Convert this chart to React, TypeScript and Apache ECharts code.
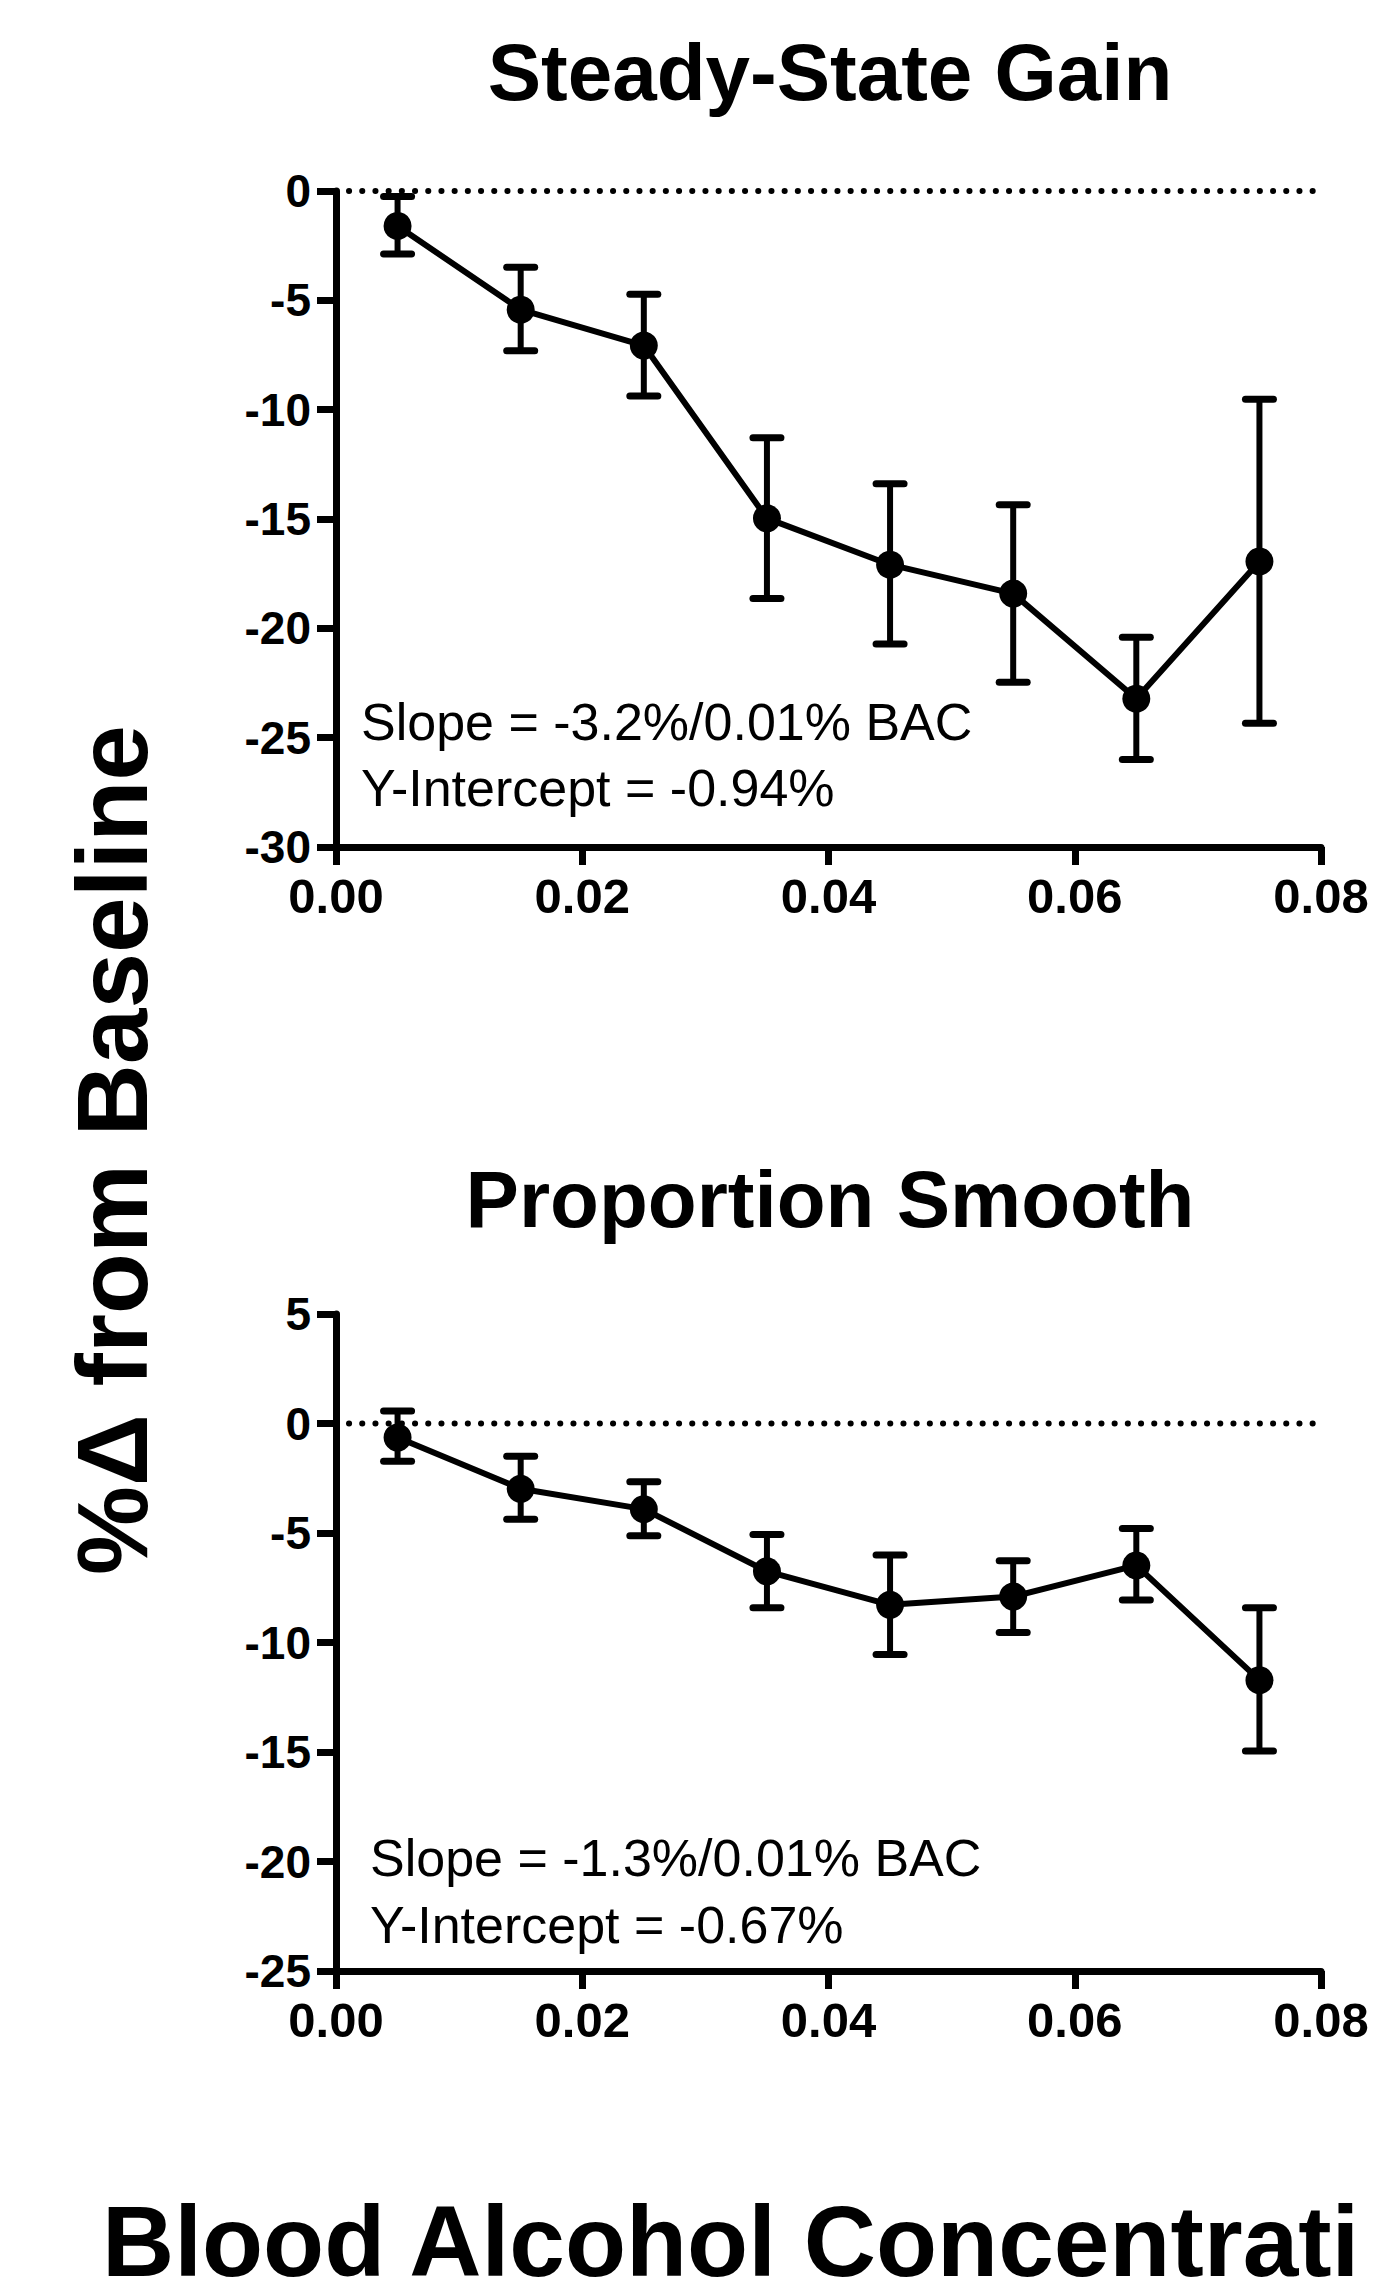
import React, { useEffect, useRef } from "react";
import * as echarts from "echarts";

// BAC bins (x positions)
const bac = [0.005, 0.015, 0.025, 0.035, 0.045, 0.055, 0.065, 0.075];

// Steady-State Gain (% change from baseline)
const ssgMean = [-1.6, -5.43, -7.07, -14.97, -17.09, -18.41, -23.22, -16.94];
const ssgUpper = [-0.25, -3.49, -4.72, -11.28, -13.39, -14.35, -20.41, -9.52];
const ssgLower = [-2.88, -7.3, -9.37, -18.63, -20.72, -22.47, -26.0, -24.34];

// Proportion Smooth (% change from baseline)
const psMean = [-0.64, -2.98, -3.91, -6.75, -8.28, -7.9, -6.48, -11.72];
const psUpper = [0.57, -1.5, -2.66, -5.07, -6.0, -6.27, -4.8, -8.41];
const psLower = [-1.72, -4.37, -5.13, -8.41, -10.55, -9.54, -8.06, -14.96];

const xTicks = [0, 0.02, 0.04, 0.06, 0.08];
const topYRange = [-30, 0];
const botYRange = [-25, 5];

const titles = ["Steady-State Gain", "Proportion Smooth"];
const yTitle = "%Δ from Baseline";
const xTitle = "Blood Alcohol Concentrati";
const topNotes = ["Slope = -3.2%/0.01% BAC", "Y-Intercept = -0.94%"];
const botNotes = ["Slope = -1.3%/0.01% BAC", "Y-Intercept = -0.67%"];

const FONT = "'Liberation Sans', Arial, Helvetica, sans-serif";

function errRender(params: any, api: any) {
  const x = api.value(0);
  const lo = api.value(1);
  const hi = api.value(2);
  const pLo = api.coord([x, lo]);
  const pHi = api.coord([x, hi]);
  const hw = 14;
  const st = { stroke: "#000", lineWidth: 7, lineCap: "round" };
  return {
    type: "group",
    children: [
      { type: "line", shape: { x1: pHi[0], y1: pHi[1], x2: pLo[0], y2: pLo[1] }, style: { stroke: "#000", lineWidth: 6 } },
      { type: "line", shape: { x1: pHi[0] - hw, y1: pHi[1], x2: pHi[0] + hw, y2: pHi[1] }, style: st },
      { type: "line", shape: { x1: pLo[0] - hw, y1: pLo[1], x2: pLo[0] + hw, y2: pLo[1] }, style: st },
    ],
  };
}

export default function App() {
  const ref = useRef<HTMLDivElement>(null);
  useEffect(() => {
    if (!ref.current) return;
    const chart = echarts.init(ref.current, undefined, { renderer: "svg" });

    const xAxisBase = (gridIndex: number) => ({
      type: "value",
      gridIndex,
      min: xTicks[0],
      max: xTicks[xTicks.length - 1],
      interval: 0.02,
      axisLine: { show: true, onZero: false, lineStyle: { color: "#000", width: 7 } },
      axisTick: { show: true, length: 18, lineStyle: { color: "#000", width: 7 } },
      splitLine: { show: false },
      axisLabel: {
        margin: 24,
        color: "#000",
        fontFamily: FONT,
        fontWeight: "bold",
        fontSize: 49,
        formatter: (v: number) => v.toFixed(2),
      },
    });
    const yAxisBase = (gridIndex: number, range: number[]) => ({
      type: "value",
      gridIndex,
      min: range[0],
      max: range[1],
      interval: 5,
      axisLine: { show: true, onZero: false, lineStyle: { color: "#000", width: 7 } },
      axisTick: { show: true, length: 19, lineStyle: { color: "#000", width: 7 } },
      splitLine: { show: false },
      axisLabel: {
        margin: 25,
        color: "#000",
        fontFamily: FONT,
        fontWeight: "bold",
        fontSize: 46,
      },
    });

    const makeSeries = (idx: number, mean: number[], up: number[], lo: number[]) => [
      {
        type: "line",
        xAxisIndex: idx,
        yAxisIndex: idx,
        data: [
          [xTicks[0], 0],
          [xTicks[xTicks.length - 1], 0],
        ],
        symbol: "none",
        silent: true,
        lineStyle: { color: "#000", width: 6, type: [0.1, 13.1], cap: "round", dashOffset: -13 },
        z: 1,
      },
      {
        type: "custom",
        xAxisIndex: idx,
        yAxisIndex: idx,
        renderItem: errRender,
        encode: { x: 0, y: [1, 2] },
        data: bac.map((x, i) => [x, lo[i], up[i]]),
        z: 2,
      },
      {
        type: "line",
        xAxisIndex: idx,
        yAxisIndex: idx,
        data: bac.map((x, i) => [x, mean[i]]),
        symbol: "circle",
        symbolSize: 28,
        itemStyle: { color: "#000" },
        lineStyle: { color: "#000", width: 6 },
        z: 3,
      },
    ];

    const noteText = (x: number, y: number, t: string) => ({
      type: "text",
      x,
      y,
      style: { text: t, fill: "#000", font: `52px ${FONT}`, align: "left", verticalAlign: "middle" },
    });

    chart.setOption({
      animation: false,
      backgroundColor: "#fff",
      grid: [
        { left: 336, top: 191, width: 985, height: 656 },
        { left: 336, top: 1314, width: 985, height: 657 },
      ],
      xAxis: [xAxisBase(0), xAxisBase(1)],
      yAxis: [yAxisBase(0, topYRange), yAxisBase(1, botYRange)],
      series: [...makeSeries(0, ssgMean, ssgUpper, ssgLower), ...makeSeries(1, psMean, psUpper, psLower)],
      graphic: [
        {
          type: "text",
          x: 830,
          y: 72,
          style: { text: titles[0], fill: "#000", font: `bold 80px ${FONT}`, align: "center", verticalAlign: "middle" },
        },
        {
          type: "text",
          x: 830,
          y: 1199,
          style: { text: titles[1], fill: "#000", font: `bold 80px ${FONT}`, align: "center", verticalAlign: "middle" },
        },
        {
          type: "text",
          x: 112,
          y: 1150,
          rotation: Math.PI / 2,
          style: { text: yTitle, fill: "#000", font: `bold 100px ${FONT}`, align: "center", verticalAlign: "middle" },
        },
        {
          type: "text",
          x: 102,
          y: 2241,
          style: { text: xTitle, fill: "#000", font: `bold 100px ${FONT}`, align: "left", verticalAlign: "middle" },
        },
        noteText(361, 722, topNotes[0]),
        noteText(361, 788, topNotes[1]),
        noteText(370, 1858, botNotes[0]),
        noteText(370, 1925, botNotes[1]),
      ],
    });
    return () => chart.dispose();
  }, []);
  return (
    <div
      ref={ref}
      style={{ position: "absolute", left: 0, top: 0, width: 1375, height: 2296, background: "#fff" }}
    />
  );
}
